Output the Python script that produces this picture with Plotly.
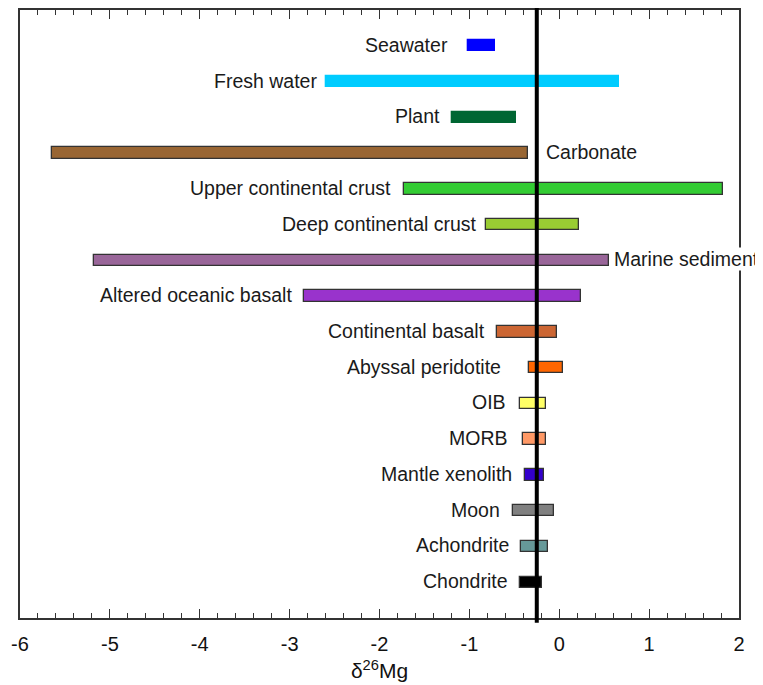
import plotly.graph_objects as go

categories = ["Seawater", "Fresh water", "Plant", "Carbonate", "Upper continental crust",
              "Deep continental crust", "Marine sediment", "Altered oceanic basalt",
              "Continental basalt", "Abyssal peridotite", "OIB", "MORB", "Mantle xenolith",
              "Moon", "Achondrite", "Chondrite"]
low_vals = [-1.01, -2.59, -1.19, -5.64, -1.73, -0.81, -5.18, -2.84, -0.69, -0.34,
            -0.44, -0.40, -0.38, -0.51, -0.43, -0.44]
high_vals = [-0.71, 0.66, -0.48, -0.35, 1.82, 0.22, 0.555, 0.24, -0.03, 0.04,
             -0.15, -0.15, -0.175, -0.06, -0.13, -0.19]
colors = ["#0000FF", "#00CCFF", "#006633", "#996633", "#33CC33", "#99CC33", "#996699",
          "#9933CC", "#CC6633", "#FF6600", "#FFFF66", "#FF9966", "#3300CC", "#808080",
          "#669999", "#000000"]
mantle_value = -0.25
x_ticks = [-6, -5, -4, -3, -2, -1, 0, 1, 2]
x_tick_labels = ["-6", "-5", "-4", "-3", "-2", "-1", "0", "1", "2"]

# styling / placement (not data)
outlined = [False, False, False] + [True] * 13
label_right = [c in ("Carbonate", "Marine sediment") for c in categories]
label_gap = [19, 8, 11, 17, 12, 8, 4, 11, 11, 27, 13, 14, 12, 12, 11, 11]

n = len(categories)
rows = [n - i for i in range(n)]
FONT = "Liberation Sans, Arial, sans-serif"

fig = go.Figure()
fig.add_trace(go.Bar(
    orientation="h",
    y=rows,
    base=low_vals,
    x=[h - l for l, h in zip(low_vals, high_vals)],
    width=0.32,
    marker=dict(color=colors,
                line=dict(color=["#333333" if o else c for o, c in zip(outlined, colors)],
                          width=1.3)),
    showlegend=False,
    hoverinfo="skip",
))

for cat, lo, hi, r, right, gap in zip(categories, low_vals, high_vals, rows, label_right, label_gap):
    fig.add_annotation(
        x=hi if right else lo, y=r, text=cat, showarrow=False,
        xanchor="left" if right else "right",
        xshift=gap if right else -gap,
        yshift=1, bgcolor="white", borderpad=0,
        font=dict(family=FONT, size=19.5, color="#1a1a1a"),
    )

fig.add_shape(type="line", x0=mantle_value, x1=mantle_value, xref="x",
              y0=-0.008, y1=1.006, yref="paper",
              line=dict(color="black", width=4), layer="above")

# the page body adds an 8px offset; margins compensate so the plot frame sits at 20..739 x 10..618
fig.update_layout(
    width=763, height=685,
    margin=dict(l=12, r=32, t=2, b=75, autoexpand=False),
    plot_bgcolor="white", paper_bgcolor="white",
    bargap=0,
    xaxis=dict(
        range=[-6, 2], tickvals=x_ticks, ticktext=x_tick_labels,
        ticks="inside", ticklen=9, tickwidth=1, tickcolor="#333",
        showgrid=False, zeroline=False, automargin=False,
        minor=dict(ticks="inside", ticklen=5, dtick=0.2, tick0=0, tickcolor="#333",
                   showgrid=False),
        showline=True, linecolor="#333", linewidth=1.5, mirror="ticks",
        ticklabelstandoff=7,
        tickfont=dict(family=FONT, size=20, color="#111"),
        title=dict(text="δ<sup>26</sup>Mg", standoff=10,
                   font=dict(family=FONT, size=21, color="#111")),
    ),
    yaxis=dict(range=[0, n + 1], showticklabels=False, ticks="", showgrid=False,
               zeroline=False, showline=True, linecolor="#333", linewidth=1.5, mirror=True,
               automargin=False),
)

fig.write_html("out.html")
